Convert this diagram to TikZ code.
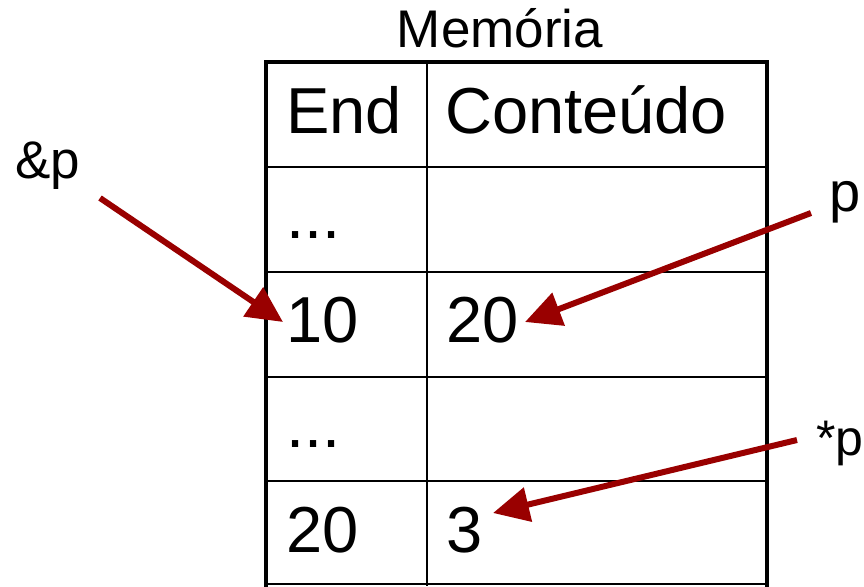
\documentclass[tikz,border=0pt]{standalone}
\usepackage{fontspec}
\setmainfont{Liberation Sans}
\usetikzlibrary{arrows.meta}
\definecolor{arrowred}{HTML}{990000}
\begin{document}
\begin{tikzpicture}[x=1pt,y=-1pt,
  thickline/.style={line width=4pt,line cap=rect},
  thinline/.style={line width=2pt},
  cell/.style={anchor=base west,inner sep=0pt,font=\fontsize{65}{65}\selectfont},
  lbl/.style={anchor=base west,inner sep=0pt},
  ptr/.style={draw=arrowred,line width=6pt,-{Triangle[length=36pt,width=34pt]}},
]
\useasboundingbox (0,0) rectangle (864,586);
% table grid
\foreach \yy in {167,272,377,481} \draw[thinline] (266,\yy) -- (767,\yy);
\draw[thinline] (266,584) -- (767,584);
\draw[thinline] (427,62) -- (427,586);
\draw[thickline] (266,586) -- (266,62) -- (767,62) -- (767,586);
% title
\node[anchor=base,inner sep=0pt,font=\fontsize{53}{53}\selectfont] (title) at (500,48) {Memória};
% cells
\node[cell] (c00) at (286,133) {End};
\node[cell] (c01) at (445,133) {Conteúdo};
\node[cell] (c10) at (286,238) {...};
\node[cell] (c20) at (286,342) {10};
\node[cell] (c21) at (446,342) {20};
\node[cell] (c30) at (286,447) {...};
\node[cell] (c40) at (286,552) {20};
\node[cell] (c41) at (446,552) {3};
% labels
\node[lbl,font=\fontsize{53}{53}\selectfont] (lamp) at (15,178) {\&p};
\node[lbl,font=\fontsize{56}{56}\selectfont] (lp) at (829,211) {p};
\node[lbl,font=\fontsize{50}{50}\selectfont] (lsp) at (816,455) {*p};
% arrow ends
\coordinate (tamp) at (100,198);
\coordinate (hamp) at (283,322);
\coordinate (tp) at (811,213);
\coordinate (hp) at (525,322);
\coordinate (tsp) at (797,440);
\coordinate (hsp) at (493,513);
\draw[ptr] (tamp) -- (hamp);
\draw[ptr] (tp) -- (hp);
\draw[ptr] (tsp) -- (hsp);
\end{tikzpicture}
\end{document}
